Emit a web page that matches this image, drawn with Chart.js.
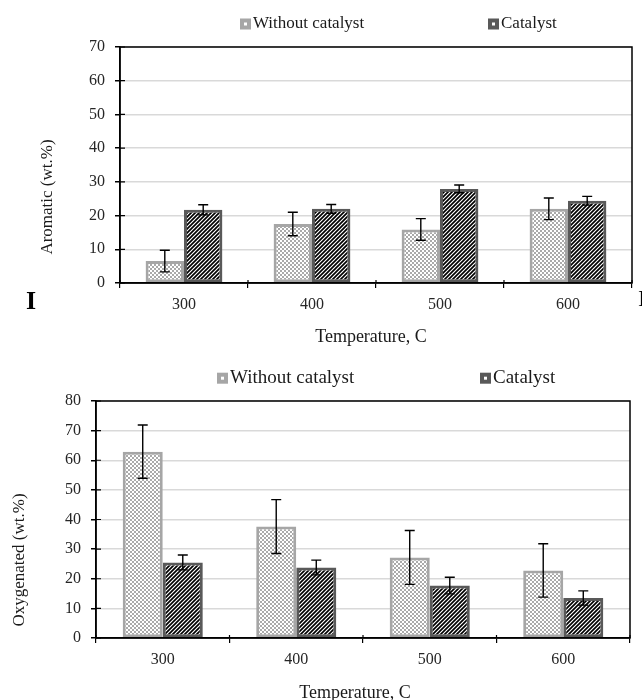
<!DOCTYPE html>
<html>
<head>
<meta charset="utf-8">
<script src="https://cdn.jsdelivr.net/npm/chart.js@4.4.0/dist/chart.umd.min.js"></script>
<style>
  body { margin: 0; background: #fff; }
  #wrap { position: relative; width: 642px; height: 700px; }
  canvas { position: absolute; left: 0; }
</style>
</head>
<body>
<div id="wrap">
  <canvas id="aromatic" width="642" height="355" style="top:0px"></canvas>
  <canvas id="oxygenated" width="642" height="345" style="top:355px"></canvas>
</div>
<script>
const temperatures = ["300", "400", "500", "600"];

// Aromatic (wt.%)
const aromaticWithout = [6.5, 17.5, 15.9, 22.0];
const aromaticWithoutErr = [3.2, 3.5, 3.2, 3.2];
const aromaticCatalyst = [21.7, 22.0, 27.9, 24.4];
const aromaticCatalystErr = [1.5, 1.3, 1.15, 1.3];

// Oxygenated (wt.%)
const oxyWithout = [62.9, 37.6, 27.2, 22.8];
const oxyWithoutErr = [9.0, 9.1, 9.1, 9.0];
const oxyCatalyst = [25.5, 23.8, 17.7, 13.5];
const oxyCatalystErr = [2.5, 2.5, 2.8, 2.4];

const serif = "'Liberation Serif', 'Times New Roman', serif";

function lightFill() {
  const c = document.createElement("canvas");
  c.width = 4; c.height = 4;
  const g = c.getContext("2d");
  g.fillStyle = "#aaaaaa";
  g.fillRect(0, 0, 4, 4);
  g.fillStyle = "#ffffff";
  g.fillRect(0, 0, 2, 2);
  g.fillRect(2, 2, 2, 2);
  return g.createPattern(c, "repeat");
}

function stripeFill() {
  const c = document.createElement("canvas");
  c.width = 4; c.height = 4;
  const g = c.getContext("2d");
  g.fillStyle = "#ffffff";
  g.fillRect(0, 0, 4, 4);
  g.strokeStyle = "#000";
  g.lineWidth = 1.7;
  g.beginPath();
  g.moveTo(0, 4); g.lineTo(4, 0);
  g.moveTo(-1, 1); g.lineTo(1, -1);
  g.moveTo(3, 5); g.lineTo(5, 3);
  g.stroke();
  return g.createPattern(c, "repeat");
}

// error bars, drawn from the y scale
const errorBars = {
  id: "errorBars",
  afterDatasetsDraw(chart) {
    const { ctx } = chart;
    const y = chart.scales.y;
    chart.data.datasets.forEach((ds, i) => {
      chart.getDatasetMeta(i).data.forEach((bar, j) => {
        const v = ds.data[j], e = ds.errors[j];
        const top = y.getPixelForValue(v + e);
        const bot = y.getPixelForValue(v - e);
        ctx.save();
        ctx.strokeStyle = "#000";
        ctx.lineWidth = 1.4;
        ctx.beginPath();
        ctx.moveTo(bar.x, top); ctx.lineTo(bar.x, bot);
        ctx.moveTo(bar.x - 5, top); ctx.lineTo(bar.x + 5, top);
        ctx.moveTo(bar.x - 5, bot); ctx.lineTo(bar.x + 5, bot);
        ctx.stroke();
        ctx.restore();
      });
    });
  }
};

// black box round the plot and the inner half of the tick marks
const frame = {
  id: "frame",
  afterDatasetsDraw(chart) {
    const { ctx, chartArea: a, scales: { x, y } } = chart;
    ctx.save();
    ctx.strokeStyle = "#000";
    ctx.lineWidth = 1.5;
    ctx.strokeRect(a.left, a.top, a.right - a.left, a.bottom - a.top);
    ctx.lineWidth = 1.2;
    ctx.beginPath();
    y.ticks.forEach((t, i) => {
      const py = y.getPixelForTick(i);
      ctx.moveTo(a.left, py); ctx.lineTo(a.left + 5, py);
    });
    for (let i = 0; i <= x.ticks.length; i++) {
      const px = x.getPixelForValue(i - 0.5);
      ctx.moveTo(px, a.bottom); ctx.lineTo(px, a.bottom - 3);
    }
    ctx.stroke();
    ctx.restore();
  }
};

// legend row and axis titles, placed as in the figure
const texts = {
  id: "texts",
  afterDraw(chart, args, o) {
    const { ctx } = chart;
    ctx.save();
    ctx.textBaseline = "middle";
    ctx.font = o.legendSize + "px " + serif;
    chart.data.datasets.forEach((ds, i) => {
      const bx = o.legendX[i], by = o.legendY;
      ctx.fillStyle = ds.swatch;
      ctx.fillRect(bx, by - 5, 11, 11);
      ctx.fillStyle = "#fff";
      ctx.fillRect(bx + 4, by - 1, 3, 3);
      ctx.fillStyle = "#1a1a1a";
      ctx.textAlign = "left";
      ctx.fillText(ds.label, bx + 13, by + 0.5);
    });

    ctx.fillStyle = "#1a1a1a";
    ctx.font = o.xTitle.size + "px " + serif;
    ctx.textAlign = "center";
    ctx.fillText(o.xTitle.text, o.xTitle.x, o.xTitle.y);

    ctx.save();
    ctx.translate(o.yTitle.x, o.yTitle.y);
    ctx.rotate(-Math.PI / 2);
    ctx.font = o.yTitle.size + "px " + serif;
    ctx.fillText(o.yTitle.text, 0, 0);
    ctx.restore();

    (o.extra || []).forEach(t => {
      ctx.font = t.font;
      ctx.textAlign = "left";
      ctx.fillStyle = "#000";
      ctx.fillText(t.text, t.x, t.y);
    });
    ctx.restore();
  }
};

function makeChart(id, c) {
  const tickFont = { family: serif, size: 16 };
  return new Chart(document.getElementById(id), {
    type: "bar",
    data: {
      labels: temperatures,
      datasets: [
        {
          label: "Without catalyst",
          data: c.without,
          errors: c.withoutErr,
          backgroundColor: lightFill(),
          borderColor: "#a6a6a6",
          borderWidth: 3,
          borderSkipped: false,
          swatch: "#a6a6a6",
          categoryPercentage: 0.6,
          barPercentage: 1.0
        },
        {
          label: "Catalyst",
          data: c.catalyst,
          errors: c.catalystErr,
          backgroundColor: stripeFill(),
          borderColor: "#595959",
          borderWidth: 3,
          borderSkipped: false,
          swatch: "#595959",
          categoryPercentage: 0.6,
          barPercentage: 1.0
        }
      ]
    },
    options: {
      responsive: false,
      animation: false,
      layout: { padding: { top: c.top, right: c.right, left: 0, bottom: 0 } },
      scales: {
        x: {
          grid: { drawOnChartArea: false, tickLength: 5, tickColor: "#000", lineWidth: 1.2 },
          border: { color: "#000", width: 1.5 },
          ticks: { font: tickFont, color: "#262626", padding: 7 },
          afterFit: s => { s.height = c.xHeight; }
        },
        y: {
          min: 0,
          max: c.max,
          ticks: { stepSize: 10, font: tickFont, color: "#262626", padding: 10 },
          grid: { color: "#d9d9d9", lineWidth: 1.5, tickLength: 5, tickColor: "#000" },
          border: { color: "#000", width: 1.5 },
          afterFit: s => { s.width = c.yWidth; }
        }
      },
      plugins: {
        legend: { display: false },
        tooltip: { enabled: false },
        texts: c.texts
      }
    },
    plugins: [errorBars, frame, texts]
  });
}

makeChart("aromatic", {
  without: aromaticWithout, withoutErr: aromaticWithoutErr,
  catalyst: aromaticCatalyst, catalystErr: aromaticCatalystErr,
  max: 70, top: 47, right: 10, yWidth: 120, xHeight: 72,
  texts: {
    legendX: [240, 488], legendY: 23.5, legendSize: 17,
    xTitle: { text: "Temperature, C", x: 371, y: 337, size: 18 },
    yTitle: { text: "Aromatic (wt.%)", x: 48, y: 197, size: 17 },
    extra: [
      { text: "I", x: 26, y: 302, font: "bold 26px " + serif },
      { text: "I", x: 638, y: 300, font: "24px " + serif }
    ]
  }
});

makeChart("oxygenated", {
  without: oxyWithout, withoutErr: oxyWithoutErr,
  catalyst: oxyCatalyst, catalystErr: oxyCatalystErr,
  max: 80, top: 46, right: 12, yWidth: 96, xHeight: 62,
  texts: {
    legendX: [217, 480], legendY: 22.7, legendSize: 19,
    xTitle: { text: "Temperature, C", x: 355, y: 338, size: 18 },
    yTitle: { text: "Oxygenated (wt.%)", x: 20, y: 205, size: 17 }
  }
});
</script>
</body>
</html>
